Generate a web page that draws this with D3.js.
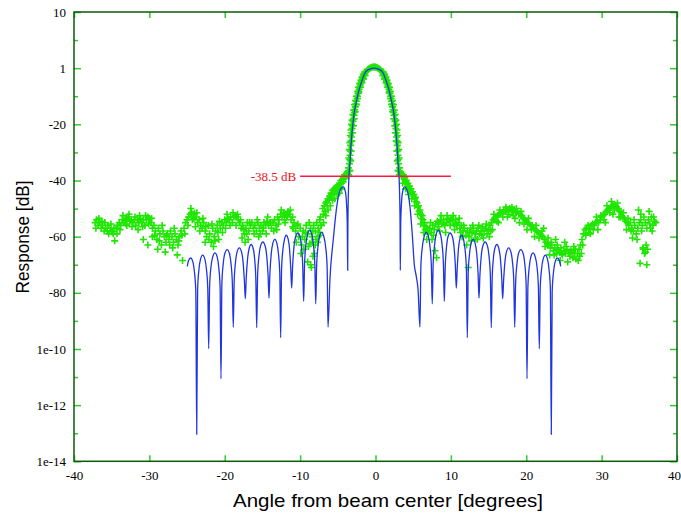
<!DOCTYPE html>
<html><head><meta charset="utf-8">
<script src="https://cdn.jsdelivr.net/npm/d3@7"></script>
<style>html,body{margin:0;padding:0;background:#fff;}svg{display:block;}</style>
</head><body>
<svg id="chart" width="681" height="516"></svg>
<script>
// ---- data ----
const xTicks = [-40,-30,-20,-10,0,10,20,30,40];
const xTickLabels = ["-40","-30","-20","-10","0","10","20","30","40"];
const yTicks = [20,0,-20,-40,-60,-80,-100,-120,-140];
const yTickLabels = ["10","1","-20","-40","-60","-80","1e-10","1e-12","1e-14"];
const yMinorTicks = [10,-10,-30,-50,-70,-90,-110,-130];
const xTitle = "Angle from beam center [degrees]";
const yTitle = "Response [dB]";
const markerLevel = -38.5;
const markerSpan = [-10, 10];
const markerLabel = "-38.5 dB";

// theoretical beam pattern [angle deg, dB]
const theory = [
[-24.97,-70.6],[-24.8,-68.5],[-24.52,-67.6],[-24.22,-69.1],[-24.02,-72.6],[-23.84,-79.6],[-23.72,-130.4],
[-23.6,-78.6],[-23.42,-71.6],[-23.22,-68.1],[-22.93,-66.6],[-22.63,-68.1],[-22.43,-71.6],[-22.25,-78.6],[-22.13,-99.9],
[-22.01,-77.8],[-21.83,-70.8],[-21.6,-67.3],[-21.3,-65.8],[-21.0,-67.3],[-20.8,-70.8],[-20.62,-77.8],[-20.5,-110.6],
[-20.38,-76.6],[-20.2,-69.6],[-20.0,-66.1],[-19.68,-64.6],[-19.37,-66.1],[-19.17,-69.6],[-18.99,-76.6],[-18.87,-92.2],
[-18.75,-76],[-18.57,-69],[-18.37,-65.5],[-18.07,-64],[-17.77,-65.5],[-17.57,-69],[-17.39,-76],[-17.27,-82.1],
[-17.15,-74.8],[-16.97,-67.8],[-16.77,-64.3],[-16.5,-62.8],[-16.22,-64.3],[-16.04,-67.8],[-15.88,-74.8],[-15.76,-92.4],
[-15.64,-73.9],[-15.46,-66.9],[-15.26,-63.4],[-14.95,-61.9],[-14.63,-63.4],[-14.43,-66.9],[-14.25,-73.9],[-14.13,-81.9],
[-14.01,-73],[-13.83,-66],[-13.63,-62.5],[-13.35,-61],[-13.07,-62.5],[-12.88,-66],[-12.7,-73],[-12.58,-96],
[-12.46,-71.5],[-12.28,-64.5],[-12.08,-61],[-11.83,-59.5],[-11.58,-61],[-11.4,-64.5],[-11.24,-71.5],[-11.12,-78.3],
[-11.0,-70.7],[-10.82,-63.7],[-10.62,-60.2],[-10.3,-58.7],[-10.0,-60.2],[-9.82,-63.7],[-9.65,-70.7],[-9.53,-83],
[-9.41,-69.7],[-9.23,-62.7],[-9.03,-59.2],[-8.75,-57.7],[-8.45,-59.2],[-8.25,-62.7],[-8.05,-69.7],[-7.93,-83.9],
[-7.81,-70.5],[-7.63,-63.5],[-7.43,-60],[-7.15,-58.5],[-6.85,-60],[-6.62,-63.5],[-6.42,-70.5],[-6.30,-92.2],
[-6.04,-75],[-5.6,-61],[-5.15,-49.5],[-4.7,-43.5],[-4.27,-42.3],[-4.0,-44],[-3.85,-48],[-3.75,-55],[-3.69,-72],
[-3.66,-55],[-3.6,-45],[-3.52,-38.4],[-3.42,-35.1],[-3.29,-29.1],[-3.12,-23.2],[-2.89,-17.3],[-2.7,-14],[-2.49,-11.4],
[-2.2,-7.9],[-1.92,-5.4],[-1.62,-3.1],[-1.4,-1.7],[-1.17,-0.9],[-0.7,-0.25],[-0.2,0],[0.3,-0.25],[0.77,-0.9],[1.0,-1.7],
[1.22,-3.1],[1.52,-5.4],[1.8,-7.9],[2.09,-11.4],[2.3,-14],[2.49,-17.3],[2.72,-23.2],[2.89,-29.1],[3.02,-35.1],[3.12,-38.4],
[3.2,-45],[3.26,-55],[3.29,-72],
[3.35,-55],[3.45,-48],[3.6,-44],[3.87,-42.3],[4.3,-44.5],[4.6,-50],[4.9,-60],[5.15,-70],[5.4,-74],[5.65,-79],[5.9,-92.2],
[6.02,-70.5],[6.22,-63.5],[6.45,-60],[6.75,-58.5],[7.03,-60],[7.23,-63.5],[7.41,-70.5],[7.53,-83.9],
[7.65,-69.7],[7.85,-62.7],[8.05,-59.2],[8.35,-57.7],[8.63,-59.2],[8.83,-62.7],[9.01,-69.7],[9.13,-83],
[9.25,-70.7],[9.42,-63.7],[9.6,-60.2],[9.9,-58.7],[10.22,-60.2],[10.42,-63.7],[10.6,-70.7],[10.72,-78.3],
[10.84,-71.5],[11.0,-64.5],[11.18,-61],[11.43,-59.5],[11.68,-61],[11.88,-64.5],[12.06,-71.5],[12.18,-96],
[12.3,-73],[12.48,-66],[12.67,-62.5],[12.95,-61],[13.23,-62.5],[13.43,-66],[13.61,-73],[13.73,-81.9],
[13.85,-73.9],[14.03,-66.9],[14.23,-63.4],[14.55,-61.9],[14.86,-63.4],[15.06,-66.9],[15.24,-73.9],[15.36,-92.4],
[15.48,-74.8],[15.64,-67.8],[15.82,-64.3],[16.1,-62.8],[16.37,-64.3],[16.57,-67.8],[16.75,-74.8],[16.87,-82.1],
[16.99,-76],[17.17,-69],[17.37,-65.5],[17.67,-64],[17.97,-65.5],[18.17,-69],[18.35,-76],[18.47,-92.2],
[18.59,-76.6],[18.77,-69.6],[18.97,-66.1],[19.28,-64.6],[19.6,-66.1],[19.8,-69.6],[19.98,-76.6],[20.1,-110.6],
[20.22,-77.8],[20.4,-70.8],[20.6,-67.3],[20.9,-65.8],[21.2,-67.3],[21.43,-70.8],[21.61,-77.8],[21.73,-99.9],
[21.85,-78.6],[22.03,-71.6],[22.23,-68.1],[22.53,-66.6],[22.82,-68.1],[23.02,-71.6],[23.2,-78.6],[23.32,-130.4],
[23.44,-79.6],[23.62,-72.6],[23.82,-69.1],[24.12,-67.6],[24.4,-68.5],[24.57,-70.6]
];

// measured response [angle deg, dB]
const measuredLeft = [
[-37.2,-55],[-37.0,-54],[-36.8,-56],[-36.6,-55],[-36.4,-57],[-36.2,-56],[-36.0,-58],[-35.8,-57],[-35.6,-58],[-35.4,-59],
[-35.2,-57],[-35.0,-58],[-34.8,-59],[-34.6,-61.5],[-34.4,-57],[-34.2,-56],[-34.0,-55],[-33.8,-56],[-33.6,-54],[-33.4,-55],
[-33.2,-54],[-33.0,-53.5],[-32.8,-53],[-32.6,-54.5],[-32.4,-54],[-32.2,-55],[-32.0,-54],[-31.8,-56],[-31.6,-54],[-31.4,-55],
[-31.2,-53.5],[-31.0,-55],[-30.8,-54],[-30.6,-56],[-30.4,-54],[-30.2,-53],[-30.0,-53.5],[-29.8,-55],[-29.6,-57],[-29.4,-56],
[-29.2,-58],[-29.0,-61],[-28.8,-57],[-28.6,-59],[-28.4,-63],[-28.2,-58],[-28.0,-60],[-27.8,-62],[-27.6,-59],[-27.4,-61],
[-27.2,-58],[-27.0,-60],[-26.8,-62],[-26.6,-59],[-26.4,-61],[-26.2,-63],[-26.0,-60],[-25.8,-58],[-25.6,-68.5],[-25.4,-57],
[-25.2,-55],[-25.0,-54],[-24.8,-53],[-24.6,-52],[-24.4,-51.5],[-24.2,-52],[-24.0,-51.7],[-23.8,-53],[-23.6,-55],[-23.4,-54],
[-23.2,-56],[-23.0,-57],[-22.8,-55],[-22.6,-58],[-22.4,-60],[-22.2,-56],[-22.0,-59],[-21.8,-62],[-21.6,-57],[-21.4,-60],
[-21.2,-58],[-21.0,-56],[-20.8,-61],[-20.6,-57],[-20.4,-55],[-20.2,-56],[-20.0,-54],[-19.8,-55],[-19.6,-53.5],[-19.4,-54],
[-19.2,-53],[-19.0,-55],[-18.8,-53],[-18.6,-52.5],[-18.4,-53],[-18.2,-54],[-18.0,-55],[-17.8,-57],[-17.6,-56],[-17.4,-59],
[-17.2,-57],[-17.0,-55],[-16.8,-58],[-16.6,-56],[-16.4,-55],[-16.2,-57],[-16.0,-56],[-15.8,-58],[-15.6,-55],[-15.4,-57],
[-15.2,-56],[-15.0,-58],[-14.8,-55],[-14.6,-56],[-14.4,-54.5],[-14.2,-56],[-14.0,-55],[-13.8,-57],[-13.6,-55],[-13.4,-54],
[-13.2,-56],[-13.0,-53],[-12.8,-54],[-12.6,-52],[-12.4,-53],[-12.2,-51.5],[-12.0,-52],[-11.8,-53],[-11.6,-51],[-11.4,-52],
[-11.2,-54],[-11.0,-53],[-10.8,-55],[-10.6,-58],[-10.4,-56],[-10.2,-60],[-10.0,-57],[-9.8,-63],[-9.6,-58],[-9.4,-61],
[-9.2,-56],[-9.0,-59],[-8.8,-55],[-8.6,-57],[-8.4,-60],[-8.2,-56],[-8.0,-58],[-7.8,-55],[-7.6,-57],[-7.4,-54],[-7.2,-56],
[-34.9,-58.3],[-33.0,-56],[-31.5,-57.5],[-30.8,-61],[-30.2,-63],[-29.6,-60],[-28.9,-64.5],[-27.9,-65.5],[-26.9,-64],[-26.3,-66.5],
[-24.3,-54],[-23.9,-56.5],[-22.6,-62],[-21.5,-63.5],[-20.9,-58.5],[-19.9,-57],[-18.5,-56],[-17.7,-60.5],[-17.3,-62],[-16.9,-61],
[-15.5,-60],[-14.5,-59],[-13.1,-57.5],[-12.0,-55],[-11.0,-56.5],[-10.5,-62],[-9.9,-66],[-9.5,-64.5],[-9.0,-69],[-8.7,-62.5],
[-8.5,-71],[-8.1,-66],[-7.9,-61],[-7.4,-59.5],
[-37.1,-57],[-36.7,-53.5],[-36.3,-54.5],[-35.9,-55],[-35.5,-56],[-35.1,-55.5],[-34.7,-57],[-34.3,-59],[-33.9,-57.5],[-33.5,-52.5],
[-33.1,-55.5],[-32.7,-52],[-32.3,-56.5],[-31.9,-53],[-31.3,-52.5],[-30.9,-56.5],[-30.5,-52.5],[-30.1,-55.5],[-29.7,-53.5],[-29.3,-59.5],
[-28.7,-61.5],[-28.3,-56],[-27.7,-59.5],[-27.3,-63],[-26.7,-57],[-26.1,-61.5],[-25.7,-59.5],[-25.3,-59],[-24.9,-56],[-24.5,-50],
[-24.1,-53.5],[-23.7,-51.5],[-23.3,-58],[-22.9,-53.5],[-22.5,-56.5],[-22.1,-61],[-21.7,-55.5],[-21.3,-61.5],[-20.7,-54.5],[-20.3,-58.5],
[-19.7,-52],[-19.3,-56],[-18.9,-51.5],[-18.3,-52],[-17.9,-54],[-17.5,-57.5],[-17.1,-59],[-16.7,-55],[-16.1,-59],[-15.7,-54],
[-15.3,-59],[-14.9,-57],[-14.3,-53],[-13.9,-55],[-13.5,-58],[-12.9,-55.5],[-12.5,-50.5],[-12.1,-54],[-11.7,-52.5],[-11.3,-50.5],
[-10.9,-57],[-10.3,-55.5],[-9.7,-60],[-9.3,-58.5],[-8.9,-63.5],[-8.3,-58],[-7.7,-62],[-7.3,-53]
];
const measuredCenter = [
[-7.0,-50],[-6.9,-52],[-6.8,-49],[-6.7,-51],[-6.6,-48],[-6.5,-47.5],[-6.4,-49],[-6.3,-46.5],[-6.2,-47],[-6.1,-45.5],
[-6.0,-46],[-5.9,-44.5],[-5.8,-45],[-5.7,-43.5],[-5.6,-44.5],[-5.5,-43],[-5.4,-44],[-5.3,-42.5],[-5.2,-43.5],[-5.1,-42],
[-5.0,-43],[-4.9,-41.5],[-4.8,-42.5],[-4.7,-41],[-4.6,-40],[-4.5,-41],[-4.4,-39.5],[-4.3,-40.5],[-4.2,-39],[-4.1,-38],
[-4.0,-39],[-3.9,-37.5],[-3.8,-38.5],[-3.7,-37],
[-6.9,-55],[-6.6,-52.5],[-6.3,-50.5],[-6.0,-49],[-5.7,-47],[-5.4,-46.5],[-5.1,-45],[-4.8,-44.5],[-4.5,-43],[-7.2,-56],
[-7.4,-58.5],[-7.6,-60],[-8.0,-63],[-8.3,-67],[-8.6,-70],[-8.4,-62],
[-3.56,-38],[-3.5,-36.5],[-3.46,-34],[-3.42,-32.5],[-3.38,-31],[-3.34,-29.5],[-3.3,-27.5],[-3.26,-26],[-3.2,-24.5],[-3.15,-23],
[-3.1,-21.5],[-3.04,-20.5],[-2.98,-19],[-2.92,-18],[-2.86,-16.8],[-2.8,-15.8],[-2.74,-14.8],[-2.67,-13.8],[-2.6,-12.8],[-2.53,-11.8],
[-2.46,-10.8],[-2.39,-10],[-2.32,-9],[-2.25,-8.2],[-2.18,-7.5],[-2.1,-6.7],[-2.02,-6],[-1.94,-5.3],[-1.85,-4.6],[-1.76,-3.9],
[-1.66,-3.3],[-1.56,-2.7],[-1.46,-2.1],[-1.35,-1.6],[-1.24,-1.2],[-1.12,-0.8],[-1.0,-0.5],[-0.87,-0.2],[-0.74,0],[-0.6,0.2],
[-0.46,0.3],[-0.32,0.4],[-0.18,0.4],
[-3.6,-35.5],[-3.54,-32],[-3.48,-29],[-3.4,-26.5],[-3.34,-24],[-3.26,-22],[-3.18,-20],[-3.1,-18.5],[-3.0,-16.5],[-2.9,-15],
[-2.78,-13],[-2.66,-11.5],[-2.54,-10],[-2.4,-8.3],[-2.26,-6.8],[-2.1,-5.5],[-1.94,-4.3],[-1.78,-3.2],[-1.6,-2.2],[-1.42,-1.4],
[-3.38,-36.5],[-3.3,-33],[-3.22,-29.5],[-3.14,-26],[-3.04,-23],[-2.94,-20.5],[-2.82,-18],[-2.68,-15.5],[-2.54,-13],[-2.38,-10.8],
[-2.2,-8.7],[-2.0,-6.8],[-1.8,-5.2],[-1.58,-3.8],[-1.36,-2.6],
[3.16,-38],[3.1,-36.5],[3.06,-34],[3.02,-32.5],[2.98,-31],[2.94,-29.5],[2.9,-27.5],[2.86,-26],[2.8,-24.5],[2.75,-23],
[2.7,-21.5],[2.64,-20.5],[2.58,-19],[2.52,-18],[2.46,-16.8],[2.4,-15.8],[2.34,-14.8],[2.27,-13.8],[2.2,-12.8],[2.13,-11.8],
[2.06,-10.8],[1.99,-10],[1.92,-9],[1.85,-8.2],[1.78,-7.5],[1.7,-6.7],[1.62,-6],[1.54,-5.3],[1.45,-4.6],[1.36,-3.9],
[1.26,-3.3],[1.16,-2.7],[1.06,-2.1],[0.95,-1.6],[0.84,-1.2],[0.72,-0.8],[0.6,-0.5],[0.47,-0.2],[0.34,0],[0.2,0.2],
[0.06,0.3],[-0.08,0.4],
[3.2,-35.5],[3.14,-32],[3.08,-29],[3.0,-26.5],[2.94,-24],[2.86,-22],[2.78,-20],[2.7,-18.5],[2.6,-16.5],[2.5,-15],
[2.38,-13],[2.26,-11.5],[2.14,-10],[2.0,-8.3],[1.86,-6.8],[1.7,-5.5],[1.54,-4.3],[1.38,-3.2],[1.2,-2.2],[1.02,-1.4],
[2.98,-36.5],[2.9,-33],[2.82,-29.5],[2.74,-26],[2.64,-23],[2.54,-20.5],[2.42,-18],[2.28,-15.5],[2.14,-13],[1.98,-10.8],
[1.8,-8.7],[1.6,-6.8],[1.4,-5.2],[1.18,-3.8],[0.96,-2.6],
[3.3,-37],[3.4,-38],[3.5,-37.5],[3.6,-38.5],[3.7,-38],[3.8,-39.5],[3.9,-39],[4.0,-40.5],[4.1,-40],[4.2,-41.5],
[4.3,-41],[4.4,-42.5],[4.5,-42],[4.6,-43.5],[4.7,-43],[4.8,-44.5],[4.9,-44],[5.0,-45.5],[5.1,-45],[5.2,-46.5],
[5.3,-46],[5.4,-47.5],[5.5,-48],[5.6,-49.5],[5.7,-49],[5.8,-51],[5.9,-50.5],[6.0,-52],[6.1,-53.5],[6.2,-52.5],
[6.3,-54],[6.4,-56],[6.5,-55],[6.6,-57.5],[6.7,-56.5],[6.8,-58],[6.9,-57],[7.0,-59],
[4.0,-43],[4.4,-45],[4.8,-46.5],[5.2,-49],[5.6,-52],[6.0,-55.5],[6.4,-58.5],[6.8,-61],[3.6,-41]
];
const measuredRight = [
[7.2,-57],[7.4,-58.5],[7.6,-56],[7.8,-57.5],[8.0,-55.5],[8.2,-54.5],[8.4,-55],[8.6,-54],[8.8,-55.5],[9.0,-54],
[9.2,-56],[9.4,-55],[9.6,-53.5],[9.8,-54.5],[10.0,-53.5],[10.2,-54],[10.4,-55.5],[10.6,-54],[10.8,-56],[11.0,-55],
[11.2,-57],[11.4,-56],[11.6,-58],[11.8,-57],[12.0,-59.5],[12.2,-58],[12.4,-60],[12.6,-57],[12.8,-58.5],[13.0,-57],
[13.2,-59],[13.4,-58],[13.6,-57],[13.8,-59],[14.0,-58],[14.2,-56.5],[14.4,-58],[14.6,-57],[14.8,-59],[15.0,-57.5],
[15.2,-56],[15.4,-55],[15.6,-54],[15.8,-53.5],[16.0,-53],[16.2,-52.5],[16.4,-52],[16.6,-51.5],[16.8,-51.5],[17.0,-51],
[17.2,-51],[17.4,-50.5],[17.6,-50.5],[17.8,-50],[18.0,-50.5],[18.2,-51],[18.4,-50.5],[18.6,-51.5],[18.8,-51],[19.0,-52],
[19.2,-52],[19.4,-52.5],[19.6,-53.5],[19.8,-54],[20.0,-54.5],[20.2,-55],[20.4,-55.5],[20.6,-56],[20.8,-56],[21.0,-57],
[21.2,-57.5],[21.4,-58],[21.6,-58.5],[21.8,-59],[22.0,-59.5],[22.2,-60],[22.4,-61],[22.6,-62],[22.8,-62.5],[23.0,-63],
[23.2,-64],[23.4,-63],[23.6,-65],[23.8,-64],[24.0,-66],[24.2,-64.5],[24.4,-65.5],[24.6,-64],[24.8,-66.5],[25.0,-65],
[25.2,-66],[25.4,-64.5],[25.6,-66],[25.8,-67],[26.0,-65.5],[26.2,-67.5],[26.4,-66],[26.6,-68],[26.8,-66],[27.0,-64.5],
[27.2,-63],[27.4,-61],[27.6,-59],[27.8,-57.5],[28.0,-57],[28.2,-56],[28.4,-57],[28.6,-56],[28.8,-55.5],[29.0,-56],
[29.2,-55],[29.4,-54.5],[29.6,-55],[29.8,-54],[30.0,-53],[30.2,-52.5],[30.4,-52],[30.6,-51],[30.8,-50.5],[31.0,-50],
[31.2,-49.5],[31.4,-49],[31.6,-49],[31.8,-48.8],[32.0,-49.5],[32.2,-50],[32.4,-51],[32.6,-51.5],[32.8,-53],[33.0,-53.5],
[33.2,-54.5],[33.4,-55],[33.6,-56],[33.8,-55],[34.0,-57],[34.2,-58],[34.4,-56],[34.6,-59],[34.8,-57],[35.0,-55],
[35.2,-54],[35.4,-56],[35.6,-53],[35.8,-55],[36.0,-57],[36.2,-54],[36.4,-55.5],[36.6,-53],[36.8,-56],[37.0,-54.5],[37.2,-55],
[7.5,-61],[7.9,-65],[8.1,-67.5],[8.5,-58],[9.3,-58.5],[10.5,-57.5],[11.5,-60],[12.1,-63],[12.3,-71],[12.7,-61.5],
[13.5,-61],[14.3,-60.5],[15.1,-60],[15.5,-57.5],[16.3,-55],[17.5,-53],[18.5,-53.5],[19.1,-55],[20.1,-57.5],[21.1,-60],
[22.3,-57],[23.1,-66.5],[23.9,-61],[24.5,-68.5],[25.1,-62],[25.5,-69],[26.3,-63.5],[26.9,-68.5],[27.3,-66],[28.5,-59],
[29.5,-57.5],[30.5,-55],[31.5,-52],[32.3,-53],[33.3,-57.5],[34.1,-60.5],[35.3,-58],[35.5,-64],[35.9,-63],[35.7,-66],
[36.1,-64.5],[35.1,-69.5],[36.7,-58],[36.3,-51],[34.9,-50.5],[36.0,-70],[35.5,-64.5],[35.8,-65.5],
[7.3,-55],[7.7,-59.5],[8.3,-56.5],[8.7,-52.5],[9.1,-55.5],[9.5,-52.5],[9.9,-56],[10.3,-52.5],[10.7,-55.5],[11.1,-53.5],
[11.3,-58.5],[11.7,-56],[12.5,-58.5],[12.9,-56],[13.3,-60.5],[13.7,-56],[14.1,-59.5],[14.7,-55.5],[15.3,-58],[15.7,-52],
[16.1,-54.5],[16.5,-50.5],[16.9,-53],[17.3,-49.5],[17.7,-52],[18.1,-49.5],[18.3,-52.5],[18.7,-50],[19.3,-51],[19.7,-55.5],
[20.3,-53.5],[20.7,-57.5],[21.3,-56],[21.7,-60.5],[22.1,-58],[22.5,-63.5],[22.9,-60.5],[23.3,-62],[23.7,-66.5],[24.1,-63],
[24.7,-66],[25.3,-63.5],[25.9,-65],[26.5,-64.5],[27.1,-67],[27.5,-63],[27.9,-59.5],[28.3,-58.5],[28.9,-57.5],[29.3,-53],
[29.9,-52.5],[30.3,-54],[30.7,-49],[31.1,-51.5],[31.3,-47.5],[31.7,-50.5],[32.1,-48],[32.5,-53],[32.9,-51.5],[33.5,-53.5],
[33.9,-58],[34.3,-54],[34.7,-61],[35.2,-52],[36.5,-57],[36.9,-53]
];

// ---- chart ----
const plot = {left: 74, right: 677, top: 12, bottom: 461.3};
const svg = d3.select("#chart");
const x = d3.scaleLinear().domain([-40, 40]).range([plot.left, plot.right]);
const y = d3.scaleLinear().domain([-140, 20]).range([plot.bottom, plot.top]);

const tickColor = "#2fcc2f", borderColor = "#0b5a0b";
const tickFont = "'Liberation Serif', 'DejaVu Serif', serif";
const titleFont = "'Liberation Sans', Arial, sans-serif";

function styleAxis(g, showText) {
  g.select(".domain").remove();
  g.selectAll(".tick line").attr("stroke", tickColor).attr("stroke-width", 1.5);
  g.selectAll(".tick text").attr("fill", "#000").attr("font-family", tickFont).attr("font-size", 13)
    .style("display", showText ? null : "none");
}

// left axis
svg.append("g").attr("transform", `translate(${plot.left},0)`)
  .call(d3.axisLeft(y).tickValues(yTicks).tickFormat((d,i) => yTickLabels[i]).tickSize(-7).tickPadding(8))
  .call(g => styleAxis(g, true));
svg.append("g").attr("transform", `translate(${plot.left},0)`)
  .call(d3.axisLeft(y).tickValues(yMinorTicks).tickFormat("").tickSize(-4))
  .call(g => styleAxis(g, false));
// right axis (mirror)
svg.append("g").attr("transform", `translate(${plot.right},0)`)
  .call(d3.axisRight(y).tickValues(yTicks).tickFormat("").tickSize(-7))
  .call(g => styleAxis(g, false));
svg.append("g").attr("transform", `translate(${plot.right},0)`)
  .call(d3.axisRight(y).tickValues(yMinorTicks).tickFormat("").tickSize(-4))
  .call(g => styleAxis(g, false));
// bottom axis
svg.append("g").attr("transform", `translate(0,${plot.bottom})`)
  .call(d3.axisBottom(x).tickValues(xTicks).tickFormat((d,i) => xTickLabels[i]).tickSize(-6).tickPadding(9))
  .call(g => styleAxis(g, true))
  .call(g => g.selectAll(".tick text").filter(d => d === 40).attr("dx", -3));
// top axis (mirror)
svg.append("g").attr("transform", `translate(0,${plot.top})`)
  .call(d3.axisTop(x).tickValues(xTicks).tickFormat("").tickSize(-6))
  .call(g => styleAxis(g, false));

// measured markers
const measured = measuredLeft.concat(measuredCenter, measuredRight);
svg.append("g").selectAll("path").data(measured).join("path")
  .attr("transform", d => `translate(${x(d[0])},${y(d[1])})`)
  .attr("d", "M-3.5,0H3.5M0,-3.5V3.5")
  .attr("stroke", "#1ee600").attr("stroke-width", 1.6).attr("fill", "none");

// theoretical line
svg.append("path").datum(theory)
  .attr("d", d3.line().x(d => x(d[0])).y(d => y(d[1])).curve(d3.curveMonotoneX))
  .attr("fill", "none").attr("stroke", "#1f35e0").attr("stroke-width", 1.3);

// -38.5 dB marker line
svg.append("line")
  .attr("x1", x(markerSpan[0])).attr("x2", x(markerSpan[1]))
  .attr("y1", y(markerLevel)).attr("y2", y(markerLevel))
  .attr("stroke", "#ff1744").attr("stroke-width", 1.5);
svg.append("text")
  .attr("x", x(markerSpan[0]) - 4).attr("y", y(markerLevel)).attr("dy", "0.35em")
  .attr("text-anchor", "end").attr("font-family", tickFont).attr("font-size", 13)
  .attr("fill", "#f01020").text(markerLabel);

// border
svg.append("rect").attr("x", plot.left).attr("y", plot.top)
  .attr("width", plot.right - plot.left).attr("height", plot.bottom - plot.top)
  .attr("fill", "none").attr("stroke", borderColor).attr("stroke-width", 1.5);

// titles
svg.append("text").attr("x", 388).attr("y", 507)
  .attr("text-anchor", "middle").attr("font-family", titleFont).attr("font-size", 19)
  .attr("textLength", 310).attr("lengthAdjust", "spacingAndGlyphs").text(xTitle);
svg.append("text").attr("transform", "translate(29,237) rotate(-90)")
  .attr("text-anchor", "middle").attr("font-family", titleFont).attr("font-size", 19)
  .attr("textLength", 113).attr("lengthAdjust", "spacingAndGlyphs").text(yTitle);
</script>
</body></html>
